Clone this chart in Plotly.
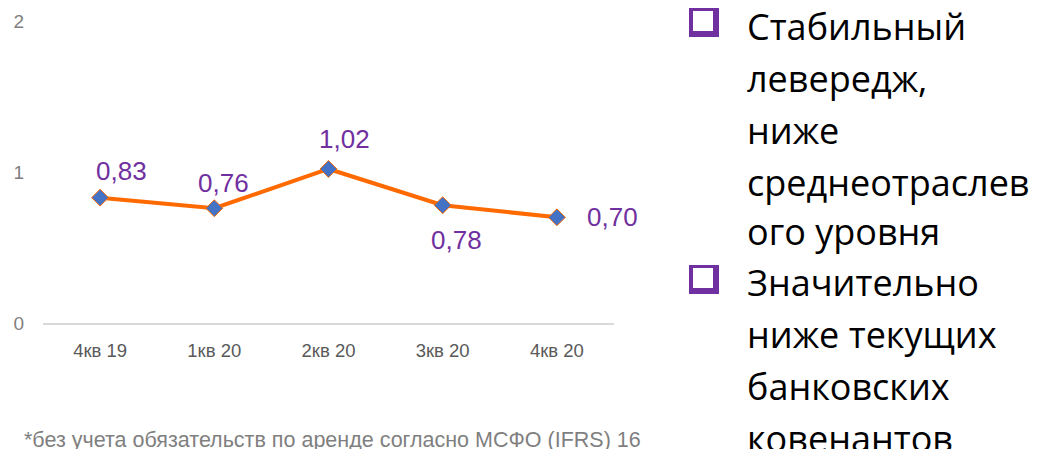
import plotly.graph_objects as go

categories = ["4кв 19", "1кв 20", "2кв 20", "3кв 20", "4кв 20"]
values = [0.83, 0.76, 1.02, 0.78, 0.70]
value_labels = ["0,83", "0,76", "1,02", "0,78", "0,70"]
label_shift_x = [21, 9, 16, 14, 56]
label_shift_y = [27, 25, 30, -35, 0]

bullet1_lines = ["Стабильный", "левередж,", "ниже", "среднеотраслев", "ого уровня"]
bullet2_lines = ["Значительно", "ниже текущих", "банковских", "ковенантов"]
footnote = "*без учета обязательств по аренде согласно МСФО (IFRS) 16"

W, H = 1043, 449
OFF = 8  # page body margin
L, R, T, B = 43 - OFF, 614 - OFF, 21 - OFF, 323 - OFF  # plot area in figure pixels


def px(xp):
    return (xp - OFF - L) / (R - L)


def py(yp):
    return (B - (yp - OFF)) / (B - T)


sans = "Liberation Sans, Arial, sans-serif"

fig = go.Figure()
fig.add_trace(go.Scatter(
    x=categories, y=values, mode="lines+markers",
    line=dict(color="#FF6A00", width=4),
    marker=dict(symbol="diamond", size=13, color="#4472C4",
                line=dict(color="#FF6A00", width=1)),
    hoverinfo="skip", showlegend=False,
))

annotations = []
for c, v, t, dx, dy in zip(categories, values, value_labels, label_shift_x, label_shift_y):
    annotations.append(dict(
        x=c, y=v, xref="x", yref="y", text=t, showarrow=False,
        xshift=dx, yshift=dy, xanchor="center", yanchor="middle",
        font=dict(family=sans, size=26, color="#7030A0"),
    ))

# right-hand bullet text
lines = bullet1_lines + bullet2_lines
centers = [26.5, 78.5, 130.5, 182.5, 231.5, 282.5, 334.5, 386.5, 438.5]
for txt, cy in zip(lines, centers):
    annotations.append(dict(
        x=px(745), y=py(cy), xref="paper", yref="paper", text=txt,
        showarrow=False, xanchor="left", yanchor="middle",
        font=dict(family="Open Sans, Noto Sans, sans-serif", size=36, color="#000000"),
    ))

annotations.append(dict(
    x=px(22), y=py(440), xref="paper", yref="paper", text=footnote,
    showarrow=False, xanchor="left", yanchor="middle",
    font=dict(family=sans, size=21.5, color="#7F7F7F"),
))

shapes = []
for top in (8, 265):
    shapes.append(dict(type="rect", xref="paper", yref="paper",
                       x0=px(689), x1=px(719), y0=py(top + 29), y1=py(top),
                       fillcolor="#7030A0", line=dict(width=0), layer="above"))
    shapes.append(dict(type="rect", xref="paper", yref="paper",
                       x0=px(693), x1=px(713), y0=py(top + 23), y1=py(top + 3),
                       fillcolor="#FFFFFF", line=dict(width=0), layer="above"))

fig.update_layout(
    width=W, height=H,
    margin=dict(l=L, r=W - R, t=T, b=H - B, autoexpand=False),
    paper_bgcolor="white", plot_bgcolor="white",
    annotations=annotations, shapes=shapes,
    xaxis=dict(range=[-0.5, 4.5], showgrid=False, zeroline=False, showline=True,
               linecolor="#D9D9D9", linewidth=1.5, ticks="", ticklabelstandoff=10,
               automargin=False,
               tickfont=dict(family=sans, size=18.5, color="#595959")),
    yaxis=dict(range=[0, 2], tickvals=[0, 1, 2], ticktext=["0", "1", "2"],
               showgrid=False, zeroline=False, showline=False, ticks="",
               ticklabelstandoff=18, automargin=False,
               tickfont=dict(family=sans, size=19, color="#7F7F7F")),
)

fig.write_html("out.html")
